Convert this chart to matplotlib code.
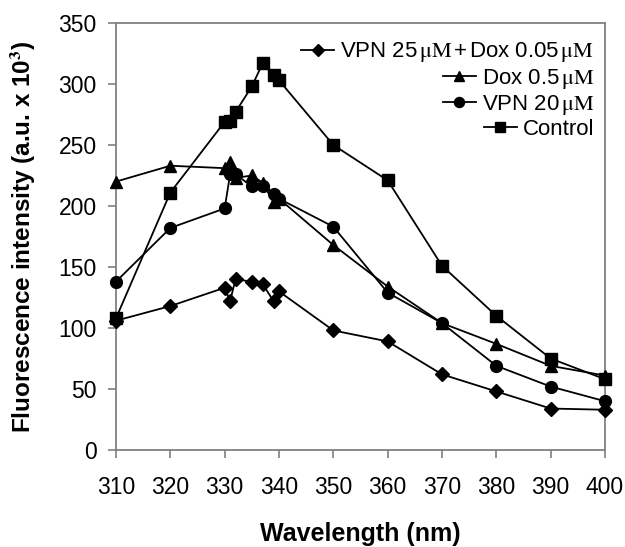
import numpy as np
import matplotlib
matplotlib.use("Agg")
import matplotlib.pyplot as plt

plt.rcParams['font.family'] = ['Liberation Sans', 'DejaVu Sans']
plt.rcParams['mathtext.fontset'] = 'stix'

# wavelengths (nm)
wl_main = [310, 320, 330, 331, 332, 335, 337, 339, 340, 350, 360, 370, 380, 390, 400]

combo = [106, 118, 133, 122, 140, 138, 136, 122, 130, 98, 89, 62, 48, 34, 33]
dox = [220, 233, 231, 236, 223, 225, 219, 203, 206, 168, 134, 104, 87, 69, 61]
vpn = [138, 182, 198, 226, 226, 216, 216, 210, 206, 183, 129, 104, 69, 52, 40]
control = [108, 211, 269, 270, 277, 298, 317, 307, 303, 250, 221, 151, 110, 75, 58]

labels = [r"VPN 25$\,\mathrm{\mu M}\,$+$\,$Dox 0.05$\,\mathrm{\mu M}$",
          r"Dox 0.5$\,\mathrm{\mu M}$",
          r"VPN 20$\,\mathrm{\mu M}$",
          "Control"]
markers = ["D", "^", "o", "s"]
msizes = [7.5, 9, 8.5, 9]
series = [combo, dox, vpn, control]

fig = plt.figure(figsize=(6.25, 5.47), dpi=100)
ax = fig.add_axes([0.1856, 0.1773, 0.7824, 0.7807])

handles = []
for ys, m, ms, lab in zip(series, markers, msizes, labels):
    h, = ax.plot(wl_main, ys, color="black", lw=1.3, marker=m, ms=ms,
                 mfc="black", mec="black", label=lab, clip_on=False, zorder=3)
    handles.append(h)

ax.set_xlim(310, 400)
ax.set_ylim(0, 350)
ax.set_xticks(np.arange(310, 401, 10))
ax.set_yticks(np.arange(0, 351, 50))
for s in ax.spines.values():
    s.set_color("#808080")
    s.set_linewidth(1.3)
ax.tick_params(direction="out", length=6, width=1.2, color="#808080",
               labelsize=16.5)
ax.tick_params(axis="x", pad=13)
ax.tick_params(axis="y", pad=8)

ax.set_xlabel("Wavelength (nm)", fontsize=18, fontweight="bold", labelpad=16)
ax.set_ylabel(r"Fluorescence intensity (a.u. x 10$^\mathbf{3}$)", fontsize=17.5,
              fontweight="bold", labelpad=15)

leg = ax.legend(handles=handles, loc="upper right", bbox_to_anchor=(1.0, 0.985),
                frameon=False, fontsize=16, handlelength=1.5, handletextpad=0.25,
                labelspacing=0.1, borderpad=0, markerscale=0.85)
for col in leg._legend_handle_box.get_children():
    col.align = "right"

fig.savefig("out.png", dpi=100)
